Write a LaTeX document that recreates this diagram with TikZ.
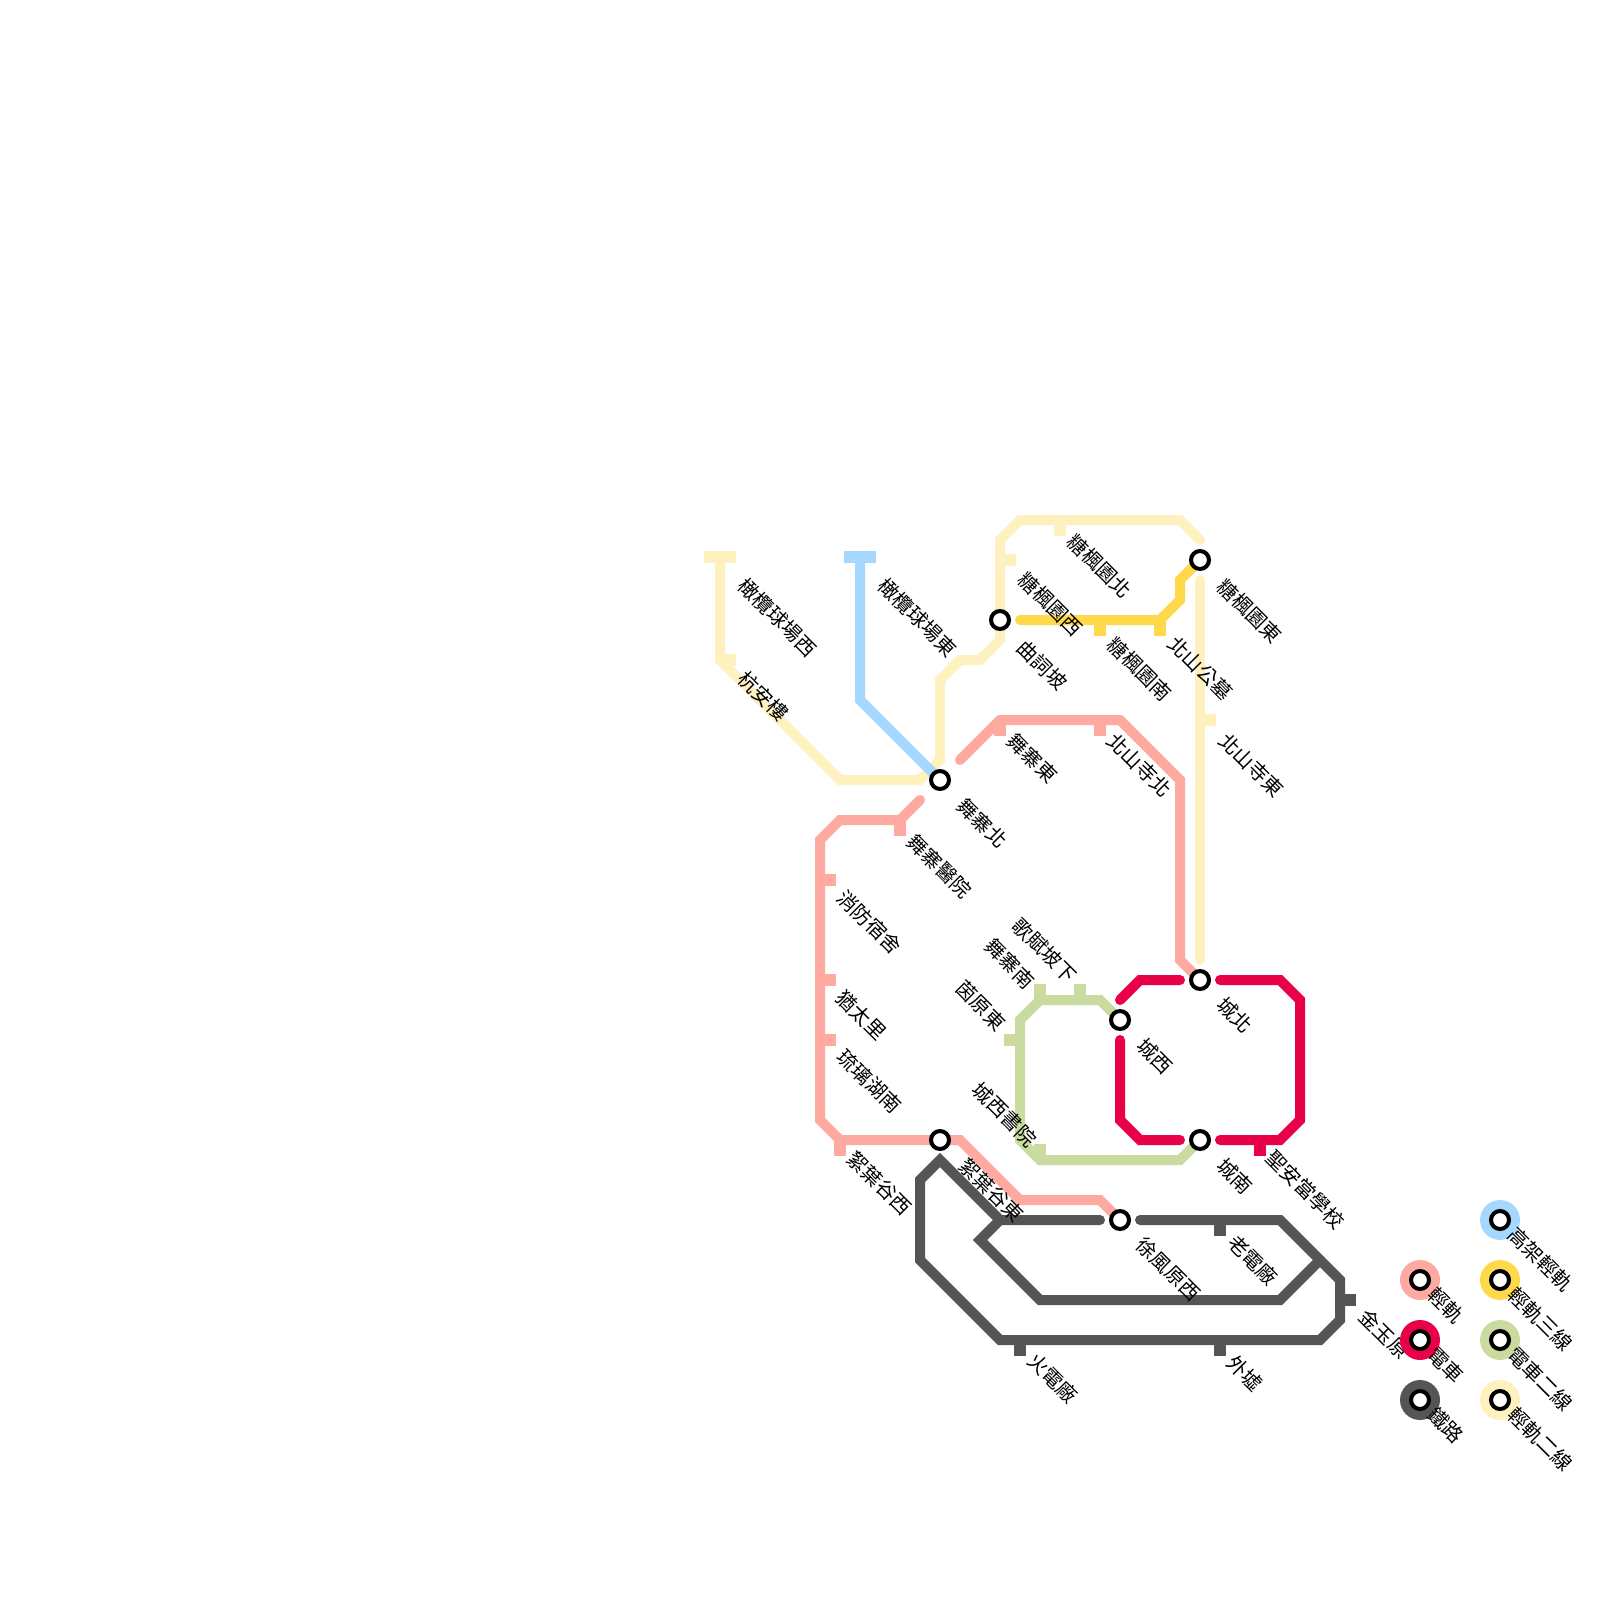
\documentclass[tikz,border=0pt]{standalone}
\usepackage{fontspec}
\newfontfamily\cjk{Noto Sans CJK TC}
\definecolor{cpale}{HTML}{FFF0C0}
\definecolor{cblue}{HTML}{A5D8FF}
\definecolor{cyel}{HTML}{FFD94A}
\definecolor{cpink}{HTML}{FFAAA0}
\definecolor{cred}{HTML}{E80048}
\definecolor{cgreen}{HTML}{C9DB9E}
\definecolor{cdark}{HTML}{555555}
\tikzset{
 mline/.style={line width=10pt,line cap=round,miter limit=10},
 tick/.style={line width=12pt,line cap=butt},
 stn/.style={circle,draw=black,fill=white,line width=4pt,minimum size=18pt,inner sep=0pt},
 lab/.style={rotate=-45,anchor=west,inner sep=0pt,font=\cjk\fontsize{20pt}{20pt}\selectfont,text=black},
 labl/.style={rotate=-45,anchor=east,inner sep=0pt,font=\cjk\fontsize{20pt}{20pt}\selectfont,text=black},
 legd/.style={circle,inner sep=0pt,minimum size=40pt}
}
\begin{document}
\begin{tikzpicture}[x=1pt,y=-1pt]
\useasboundingbox (0,0) rectangle (1600,1600);
% station coordinates
\coordinate (wzb) at (940,780);
\coordinate (qcp) at (1000,620);
\coordinate (tfd) at (1200,560);
\coordinate (cb) at (1200,980);
\coordinate (cx) at (1120,1020);
\coordinate (cn) at (1200,1140);
\coordinate (xyn) at (940,1140);
\coordinate (xfy) at (1120,1220);
% pale line
\draw[mline,cpale] (720,560) -- (720,660) -- (840,780) -- (920,780) -- (wzb |- 0,760) -- (940,680) -- (960,660) -- (980,660) -- (1000,640) -- (1000,540) -- (1020,520) -- (1180,520) -- (1200,540);
\draw[mline,cpale] (1200,580) -- (1200,960);
\draw[tick,cpale] (704,557) -- (736,557);
\draw[tick,cpale] (720,660) -- (736,660);
\draw[tick,cpale] (1000,560) -- (1016,560);
\draw[tick,cpale] (1060,520) -- (1060,536);
\draw[tick,cpale] (1200,720) -- (1216,720);
% blue line
\draw[mline,cblue,line cap=butt] (860,560) -- (860,700) -- (wzb);
\draw[tick,cblue] (844,557) -- (876,557);
% yellow line
\draw[mline,cyel] (1020,620) -- (1160,620) -- (1180,600) -- (1180,580) -- (tfd);
\draw[tick,cyel] (1100,620) -- (1100,636);
\draw[tick,cyel] (1160,620) -- (1160,636);
% pink lines
\draw[mline,cpink] (960,760) -- (1000,720) -- (1120,720) -- (1180,780) -- (1180,960) -- (cb);
\draw[tick,cpink] (1000,720) -- (1000,736);
\draw[tick,cpink] (1100,720) -- (1100,736);
\draw[mline,cpink] (920,800) -- (900,820) -- (840,820) -- (820,840) -- (820,1120) -- (840,1140) -- (960,1140) -- (1020,1200) -- (1100,1200) -- (xfy);
\draw[tick,cpink] (900,820) -- (900,836);
\draw[tick,cpink] (820,880) -- (836,880);
\draw[tick,cpink] (820,980) -- (836,980);
\draw[tick,cpink] (820,1040) -- (836,1040);
\draw[tick,cpink] (840,1140) -- (840,1156);
% red line
\draw[mline,cred] (1120,1000) -- (1140,980) -- (1180,980);
\draw[mline,cred] (1220,980) -- (1280,980) -- (1300,1000) -- (1300,1120) -- (1280,1140) -- (1220,1140);
\draw[mline,cred] (1180,1140) -- (1140,1140) -- (1120,1120) -- (1120,1040);
\draw[tick,cred] (1260,1140) -- (1260,1156);
% green line
\draw[mline,cgreen] (cx) -- (1100,1000) -- (1040,1000) -- (1020,1020) -- (1020,1140) -- (1040,1160) -- (1180,1160) -- (cn);
\draw[tick,cgreen] (1040,1000) -- (1040,984);
\draw[tick,cgreen] (1080,1000) -- (1080,984);
\draw[tick,cgreen] (1020,1040) -- (1004,1040);
\draw[tick,cgreen] (1040,1160) -- (1040,1144);
% dark line
\draw[mline,cdark] (1100,1220) -- (1000,1220) -- (940,1160) -- (920,1180) -- (920,1260) -- (1000,1340) -- (1320,1340) -- (1340,1320) -- (1340,1280) -- (1280,1220) -- (1140,1220);
\draw[mline,cdark] (1000,1220) -- (980,1240) -- (1040,1300) -- (1280,1300) -- (1320,1260);
\draw[tick,cdark] (1220,1220) -- (1220,1236);
\draw[tick,cdark] (1340,1300) -- (1356,1300);
\draw[tick,cdark] (1020,1340) -- (1020,1356);
\draw[tick,cdark] (1220,1340) -- (1220,1356);
% interchange stations
\node[stn] (s1) at (wzb) {};
\node[stn] (s2) at (qcp) {};
\node[stn] (s3) at (tfd) {};
\node[stn] (s4) at (cb) {};
\node[stn] (s5) at (cx) {};
\node[stn] (s6) at (cn) {};
\node[stn] (s7) at (xyn) {};
\node[stn] (s8) at (xfy) {};
% labels
\node[lab] (l1) at (742,582) {橄欖球場西};
\node[lab] (l2) at (742,675) {杭安樓};
\node[lab] (l3) at (882,582) {橄欖球場東};
\node[lab] (l4) at (1071,538) {糖楓園北};
\node[lab] (l5) at (1022,576) {糖楓園西};
\node[lab] (l6) at (1221,583) {糖楓園東};
\node[lab] (l7) at (1111,641) {糖楓園南};
\node[lab] (l8) at (1172,640) {北山公墓};
\node[lab] (l9) at (1021,644) {曲詞坡};
\node[lab] (l10) at (1011,737) {舞寨東};
\node[lab] (l11) at (1111,737) {北山寺北};
\node[lab] (l12) at (1223,737) {北山寺東};
\node[lab] (l13) at (961,802) {舞寨北};
\node[lab] (l14) at (911,838) {舞寨醫院};
\node[lab] (l15) at (841,894) {消防宿舍};
\node[lab] (l16) at (840,994) {猶太里};
\node[lab] (l17) at (841,1053) {琉璃湖南};
\node[lab] (l18) at (1221,1001) {城北};
\node[lab] (l19) at (1141,1042) {城西};
\node[lab] (l20) at (1221,1162) {城南};
\node[lab] (l21) at (1270,1154) {聖安當學校};
\node[lab] (l22) at (851,1155) {絮葉谷西};
\node[lab] (l23) at (963,1162) {絮葉谷東};
\node[lab] (l24) at (1140,1241) {徐風原西};
\node[lab] (l25) at (1232,1239) {老電廠};
\node[lab] (l26) at (1032,1357) {火電廠};
\node[lab] (l27) at (1231,1359) {外墟};
\node[lab] (l28) at (1363,1313) {金玉原};
\node[labl] (l29) at (1073,979) {歌賦坡下};
\node[labl] (l30) at (1031,985) {舞寨南};
\node[labl] (l31) at (1002,1027) {茵原東};
\node[labl] (l32) at (1033,1143) {城西書院};
% legend
\foreach \n/\x/\y/\c/\t in {a/1500/1220/cblue/高架輕軌,b/1420/1280/cpink/輕軌,c/1500/1280/cyel/輕軌三線,d/1420/1340/cred/電車,e/1500/1340/cgreen/電車二線,f/1420/1400/cdark/鐵路,g/1500/1400/cpale/輕軌二線}{
  \node[legd,fill=\c] (lg\n) at (\x,\y) {};
  \node[stn] (ls\n) at (\x,\y) {};
  \node[lab] (lt\n) at (\x+12,\y+11) {\t};
}
\end{tikzpicture}
\end{document}
